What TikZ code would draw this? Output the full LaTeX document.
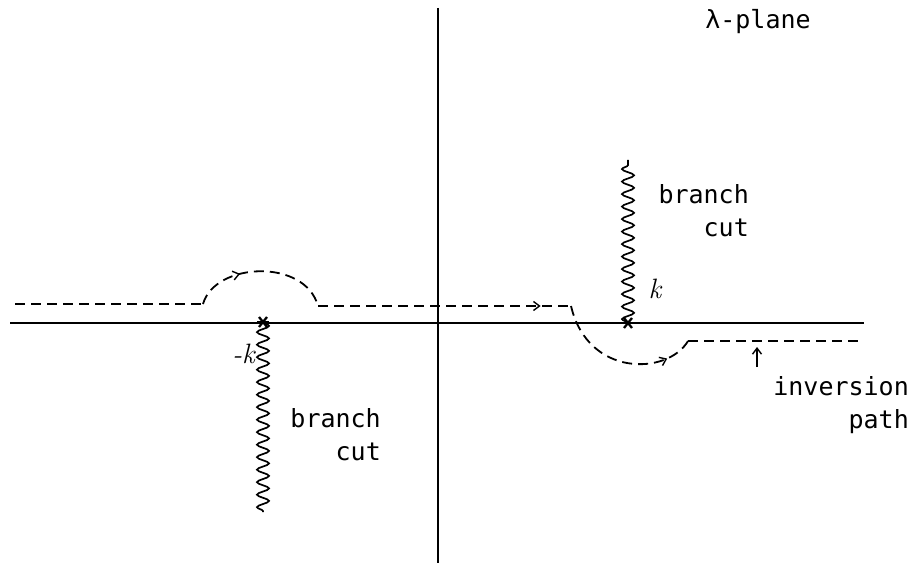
\documentclass[tikz,border=0pt]{standalone}
\usepackage{fontspec}
\setmonofont{DejaVu Sans Mono}
\usetikzlibrary{decorations.pathmorphing,decorations.markings,arrows.meta}
\begin{document}
\begin{tikzpicture}[x=1pt,y=-1pt,
  >={Straight Barb[length=6pt,width=9pt,line width=1.4pt]},
  axis/.style={line width=2pt},
  cut/.style={line width=1.7pt,decorate,decoration={snake,amplitude=6pt,segment length=12.5pt}},
  pathd/.style={line width=1.8pt,dash pattern=on 10pt off 6pt},
  lbl/.style={font=\ttfamily\fontsize{25}{33}\selectfont,inner sep=0pt},
  midarrow/.style={postaction={decorate,decoration={markings,mark=at position #1 with {\arrow[solid]{>}}}}},
  starmark/.style={line width=2.3pt},
  klbl/.style={font=\rmfamily\itshape\fontsize{28}{28}\selectfont,inner sep=0pt}
]
\useasboundingbox (0,0) rectangle (912,564);
% axes
\coordinate (xl) at (10,323);
\coordinate (xr) at (864,323);
\coordinate (yt) at (438,8);
\coordinate (yb) at (438,563);
\draw[axis] (xl) -- (xr);
\draw[axis] (yt) -- (yb);
% branch points
\coordinate (km) at (263,322);
\coordinate (kp) at (628,323);
\coordinate (kmend) at (263,512);
\coordinate (kpend) at (628,160);
\draw[cut] (km) -- (kmend);
\draw[cut] (kp) -- (kpend);
\foreach \p in {km,kp}{
  \draw[starmark] ([shift={(-6,0)}]\p) -- ([shift={(6,0)}]\p);
  \draw[starmark] ([shift={(-4,-5)}]\p) -- ([shift={(4,5)}]\p);
  \draw[starmark] ([shift={(-4,5)}]\p) -- ([shift={(4,-5)}]\p);
}
% inversion path
\coordinate (p0) at (15,304);
\coordinate (p1) at (203,304);
\coordinate (p2) at (318,306);
\coordinate (p3) at (571,306);
\coordinate (p4) at (688,341);
\coordinate (p5) at (858,341);
\draw[pathd] (p0) -- (p1);
\draw[pathd,midarrow=0.35] (p1) .. controls (215,262) and (305,258) .. (p2);
\draw[pathd,midarrow=0.88] (p2) -- (p3);
\draw[pathd,midarrow=0.82] (p3) .. controls (588,378) and (668,375) .. (p4);
\draw[pathd] (p4) -- (p5);
% small arrow
\coordinate (a0) at (757,367);
\coordinate (a1) at (757,347);
\draw[line width=1.4pt,->] (a0) -- (a1);
% labels
\node[lbl] (plane) at (758,22) {λ-plane};
\node[lbl,align=right,anchor=north east] (bc1) at (749,184) {branch\\cut};
\node[lbl,align=right,anchor=north east] (bc2) at (381,408) {branch\\cut};
\node[lbl,align=right,anchor=north east] (inv) at (909,376) {inversion\\path};
\node[klbl] (kl) at (655,289) {k};
\node[klbl,anchor=east] (mkl) at (255,354) {-k};
\end{tikzpicture}
\end{document}
